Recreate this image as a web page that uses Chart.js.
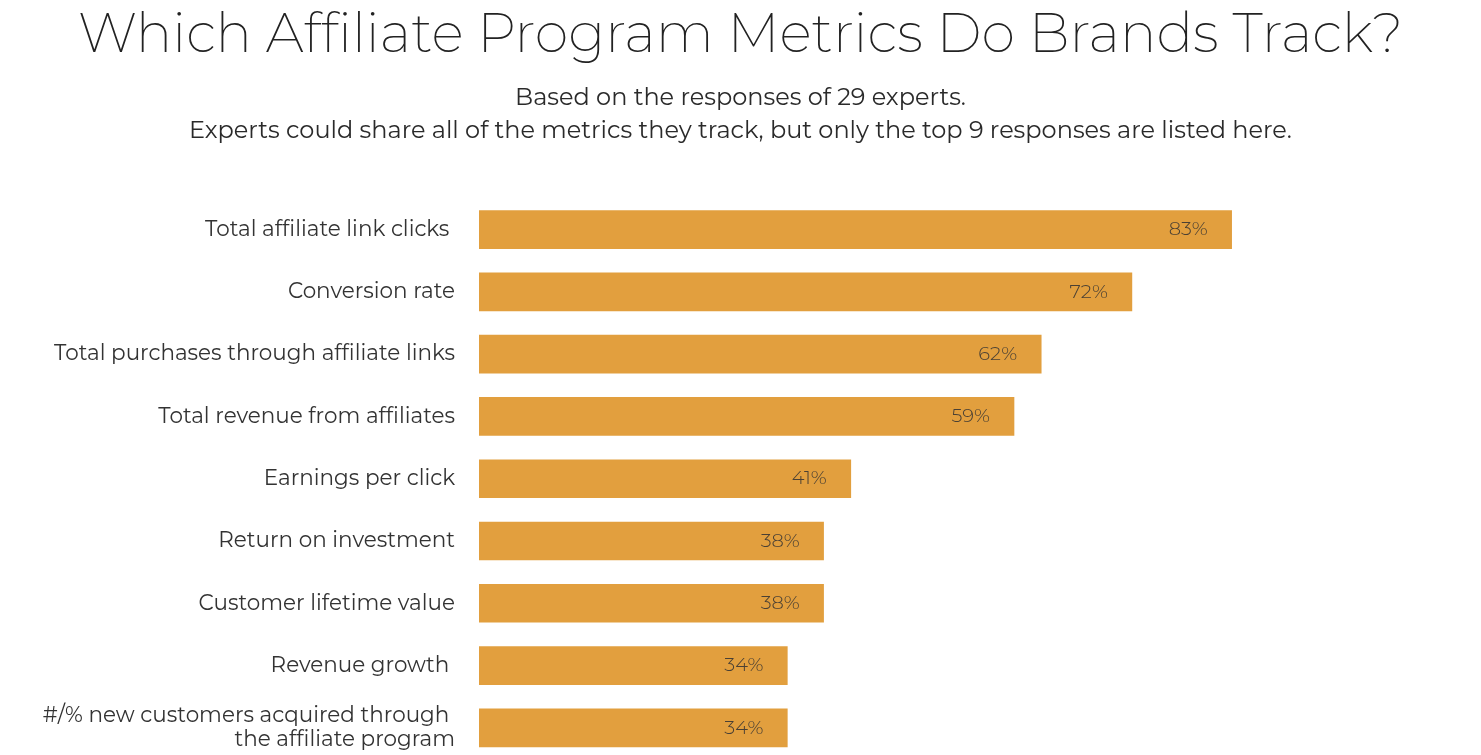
<!DOCTYPE html>
<html>
<head>
<meta charset="utf-8">
<script src="https://cdn.jsdelivr.net/npm/chart.js@4/dist/chart.umd.min.js"></script>
<style>
  html, body { margin: 0; padding: 0; background: #fff; overflow: hidden; }
  canvas { display: block; }
</style>
</head>
<body>
<canvas id="metricsChart" width="1481" height="795"></canvas>
<script>
/* ---------- DATA ---------- */
const categories = [
  "Total affiliate link clicks ",
  "Conversion rate",
  "Total purchases through affiliate links",
  "Total revenue from affiliates",
  "Earnings per click",
  "Return on investment",
  "Customer lifetime value",
  "Revenue growth ",
  ["#/% new customers acquired through ", "the affiliate program"]
];
const shares = [83, 72, 62, 59, 41, 38, 38, 34, 34];
const titleText = "Which Affiliate Program Metrics Do Brands Track?";
const subtitleLines = [
  "Based on the responses of 29 experts.",
  "Experts could share all of the metrics they track, but only the top 9 responses are listed here."
];

const FONT = "Montserrat, Inter, 'Open Sans', sans-serif";

/* ---------- VALUE LABELS INSIDE BARS ---------- */
const valueLabels = {
  id: "valueLabels",
  afterDatasetsDraw(chart) {
    const ctx = chart.ctx;
    const meta = chart.getDatasetMeta(0);
    ctx.save();
    ctx.font = "300 19.5px " + FONT;
    ctx.fillStyle = "#4a4034";
    ctx.textAlign = "right";
    ctx.textBaseline = "middle";
    meta.data.forEach((bar, i) => {
      ctx.fillText(shares[i] + "%", bar.x - 24, bar.y);
    });
    ctx.restore();
  }
};

/* ---------- CHART ---------- */
const ctx = document.getElementById("metricsChart").getContext("2d");
new Chart(ctx, {
  type: "bar",
  data: {
    labels: categories,
    datasets: [{
      data: shares,
      backgroundColor: "#E29F3E",
      borderWidth: 0,
      barThickness: 38
    }]
  },
  options: {
    indexAxis: "y",
    responsive: false,
    animation: false,
    layout: { padding: { left: 0, right: 0, top: 0, bottom: 0 } },
    plugins: {
      legend: { display: false },
      tooltip: { enabled: false },
      title: {
        display: true,
        text: titleText,
        color: "#222",
        font: { family: FONT, size: 54.4, weight: 200, lineHeight: 1.2 },
        padding: { top: 3.4, bottom: 12.8 }
      },
      subtitle: {
        display: true,
        text: subtitleLines,
        color: "#2a2a2a",
        font: { family: FONT, size: 24, weight: 400, lineHeight: 1.375 },
        padding: { top: 0, bottom: 51 }
      }
    },
    scales: {
      x: { display: false, min: 0, max: 110.5 },
      y: {
        grid: { display: false, drawTicks: false },
        border: { display: false },
        afterFit(scale) { scale.width = 479; },
        ticks: {
          color: "#333",
          padding: 24,
          font: { family: FONT, size: 21.5, weight: 400, lineHeight: 1.12 }
        }
      }
    }
  },
  plugins: [valueLabels]
});
</script>
</body>
</html>
